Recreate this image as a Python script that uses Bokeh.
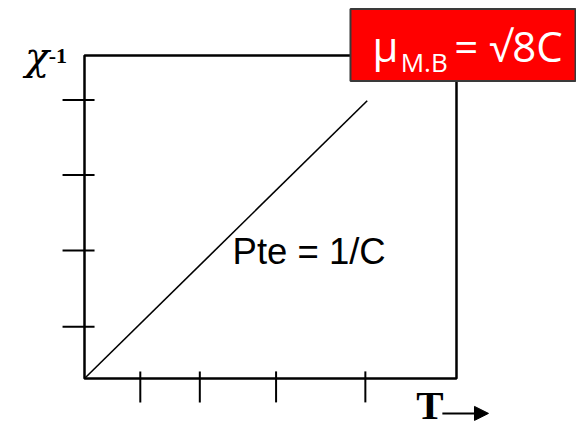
from bokeh.plotting import figure
from bokeh.models import Range1d, Arrow, NormalHead
from bokeh.core.properties import value
from bokeh.embed import file_html
from bokeh.resources import INLINE

# Curie law sketch: inverse susceptibility rises linearly with temperature
T_TICKS = [15, 31, 51.5, 75.5]
CHI_INV_TICKS = [16, 39.6, 63, 86.2]
T_LINE = [0, 76]
CHI_INV_LINE = [0, 86]
T_MAX = 100
CHI_INV_MAX = 100

# the whole canvas is the drawing area; the axes box is drawn as glyphs
p = figure(width=576, height=422,
           x_range=Range1d(-22.58, 132.26), y_range=Range1d(-13.62, 117.03),
           x_axis_type=None, y_axis_type=None,
           output_backend="svg", toolbar_location=None, min_border=0)
p.background_fill_color = "white"
p.border_fill_color = "white"
p.outline_line_color = None
p.xgrid.visible = False
p.ygrid.visible = False

# data line
p.line(T_LINE, CHI_INV_LINE, line_color="black", line_width=1.6)

# axes box
p.quad(left=[0], right=[T_MAX], bottom=[0], top=[CHI_INV_MAX],
       fill_color=None, line_color="black", line_width=2.5)

# tick marks crossing the axes
p.segment(x0=T_TICKS, x1=T_TICKS, y0=[2.2] * len(T_TICKS), y1=[-7.4] * len(T_TICKS),
          line_color="black", line_width=2)
p.segment(x0=[-5.9] * len(CHI_INV_TICKS), x1=[2.7] * len(CHI_INV_TICKS),
          y0=CHI_INV_TICKS, y1=CHI_INV_TICKS, line_color="black", line_width=2)

p.text(x=[39.8], y=[39.3], text=["Pte = 1/C"], text_font=value("Liberation Sans"),
       text_font_size="36.5px", text_baseline="alphabetic", text_color="black")

# axis names
p.text(x=[-16.0], y=[100.0], text=["χ"], text_font=value("DejaVu Serif"),
       text_font_style="italic", text_font_size="40px", text_baseline="alphabetic",
       text_color="black")
p.text(x=[-9.6], y=[99.8], text=["-1"], text_font=value("Liberation Serif"),
       text_font_style="bold", text_font_size="22px", text_baseline="alphabetic",
       text_color="black")
p.text(x=[89.2], y=[-8.2], text=["T"], text_font=value("Liberation Serif"),
       text_font_style="bold", text_font_size="41px", text_baseline="alphabetic",
       text_color="black")
p.add_layout(Arrow(x_start=96.2, y_start=-10.8, x_end=108.6, y_end=-10.8,
                   line_width=2, line_color="black",
                   end=NormalHead(size=14, fill_color="black", line_color="black")))

# red call-out with the effective moment
p.quad(left=[71.5], right=[132.0], bottom=[92.1], top=[114.4],
       fill_color="#FF0000", line_color="#3a3a3a", line_width=2)
p.text(x=[77.4], y=[103.1], text=["μ"], text_font=value("Open Sans"),
       text_font_size="42px", text_color="white", text_baseline="alphabetic")
p.text(x=[85.0], y=[98.0], text=["M.B"], text_font=value("Open Sans"),
       text_font_size="26px", text_color="white", text_baseline="alphabetic")
p.text(x=[99.4], y=[103.1], text=["= √8C"], text_font=value("Open Sans"),
       text_font_size="42px", text_color="white", text_baseline="alphabetic")

open("out.html", "w").write(file_html(p, INLINE))
